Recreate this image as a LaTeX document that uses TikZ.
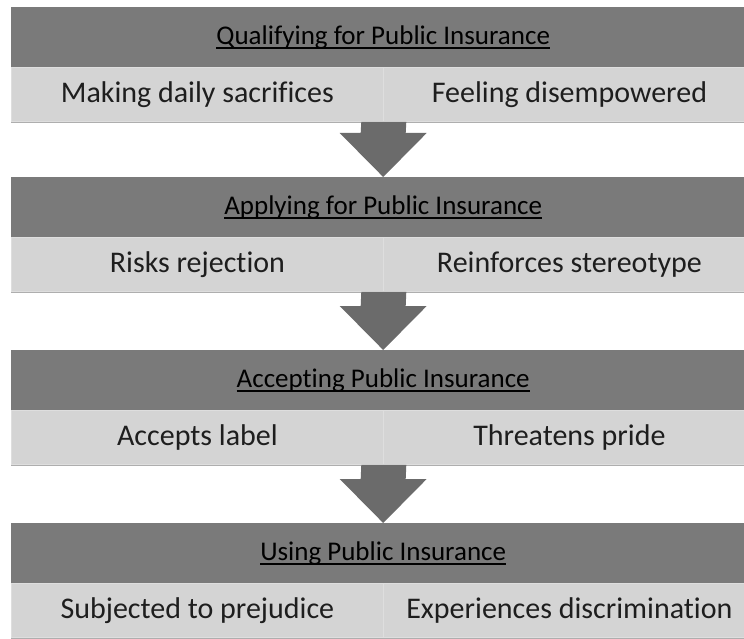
\documentclass[tikz,border=0pt]{standalone}
\usepackage{fontspec}
\setmainfont{Carlito}[Ligatures=NoCommon]
\usetikzlibrary{calc}
\definecolor{hdrgray}{HTML}{7A7A7A}
\definecolor{rowgray}{HTML}{D4D4D4}
\definecolor{rowline}{HTML}{DEDEDE}
\definecolor{arrowgray}{HTML}{6B6B6B}
\definecolor{shadowgray}{HTML}{AEAEAE}
\definecolor{textdark}{HTML}{1E1E1E}

% underlined heading text with a rule of fixed depth and thickness
\newsavebox\ulheadbox
\newcommand\ulhead[1]{\sbox\ulheadbox{#1}%
  \leavevmode\rlap{\rule[-4.5pt]{\wd\ulheadbox}{1.4pt}}\usebox\ulheadbox}

\begin{document}
\begin{tikzpicture}[x=1pt,y=-1pt,
  header/.style={fill=hdrgray, minimum width=744pt, minimum height=60pt,
    inner sep=0pt, anchor=north west, text=black,
    font=\fontsize{27}{27}\selectfont},
  cell/.style={fill=rowgray, draw=rowline, line width=0.8pt,
    minimum width=372pt, minimum height=54pt, inner sep=0pt,
    anchor=north west, text=textdark,
    font=\fontsize{30}{30}\selectfont},
  shadow/.style={draw=shadowgray, line width=1.5pt},
  blockarrow/.style={fill=arrowgray}]

\useasboundingbox (0,0) rectangle (744,639);
\clip (0,0) rectangle (744,639);

% stage 1
\node[header] (h1) at (11,7)   {\ulhead{Qualifying for Public Insurance}};
\node[cell] (l1) at (11,67)  {Making daily sacrifices};
\node[cell] (r1) at (383,67) {Feeling disempowered};

% stage 2
\node[header] (h2) at (11,177) {\ulhead{Applying for Public Insurance}};
\node[cell] (l2) at (11,237)  {Risks rejection};
\node[cell] (r2) at (383,237) {Reinforces stereotype};

% stage 3
\node[header] (h3) at (11,350) {\ulhead{Accepting Public Insurance}};
\node[cell] (l3) at (11,410)  {Accepts label};
\node[cell] (r3) at (383,410) {Threatens pride};

% stage 4
\node[header] (h4) at (11,523) {\ulhead{Using Public Insurance}};
\node[cell] (l4) at (11,583)  {Subjected to prejudice};
\node[cell] (r4) at (383,583) {Experiences discrimination};

% soft shadow under each stage
\foreach \s in {1,2,3,4}
  \draw[shadow] ($(l\s.south west)+(0,0.8)$) -- ($(r\s.south east)+(0,0.8)$);

% block arrows between stages
\foreach \a/\b in {1/2,2/3,3/4}
  \fill[blockarrow]
    ($(l\a.south east)+(-22.5,0)$) -- ($(l\a.south east)+(22.5,0)$)
    -- ($(h\b.north)+(22.5,-44)$) -- ($(h\b.north)+(43.5,-44)$)
    -- (h\b.north)
    -- ($(h\b.north)+(-43.5,-44)$) -- ($(h\b.north)+(-22.5,-44)$)
    -- cycle;
\end{tikzpicture}
\end{document}
